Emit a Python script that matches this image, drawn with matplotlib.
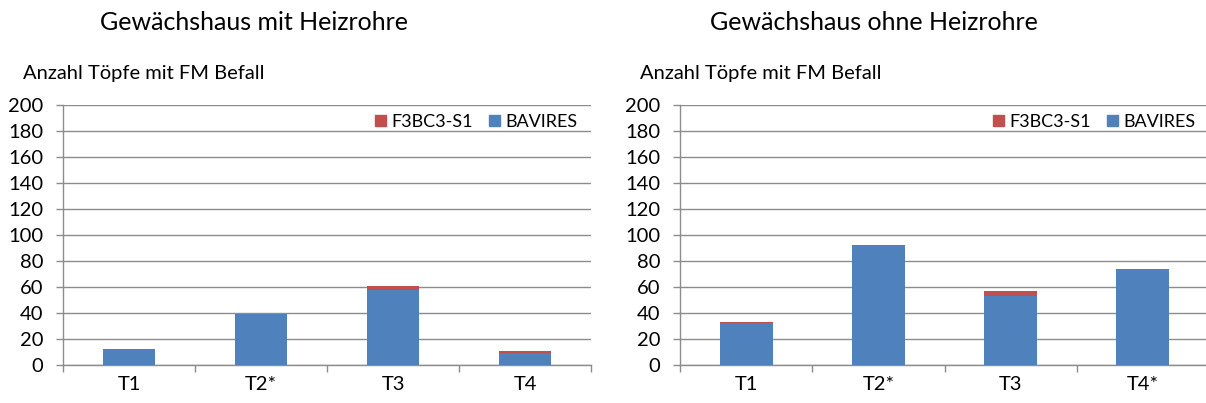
import matplotlib
matplotlib.use('Agg')
import matplotlib.pyplot as plt
from matplotlib.patches import Patch

# Data
categories_left = ['T1', 'T2*', 'T3', 'T4']
categories_right = ['T1', 'T2*', 'T3', 'T4*']
bavires_left = [12, 39, 58, 9]
f3bc3_left = [0, 0, 3, 2]
bavires_right = [32, 92, 53, 74]
f3bc3_right = [1, 0, 4, 0]
titles = ['Gewächshaus mit Heizrohre', 'Gewächshaus ohne Heizrohre']
y_label = 'Anzahl Töpfe mit FM Befall'

BLUE = '#4F81BD'
RED = '#C0504D'
GRID = '#8C8C8C'

plt.rcParams['font.family'] = ['Lato', 'DejaVu Sans']

W, H = 1206, 403
fig = plt.figure(figsize=(W / 100, H / 100), dpi=100)


def px(x, y):
    return x / W, 1 - y / H


def draw_panel(rect, cats, blue, red, title, title_x, label_x):
    ax = fig.add_axes(rect)
    xs = range(len(cats))
    ax.bar(xs, blue, width=0.4, color=BLUE, label='BAVIRES', zorder=3)
    ax.bar(xs, red, width=0.4, bottom=blue, color=RED, label='F3BC3-S1', zorder=3)

    ax.set_xlim(-0.5, len(cats) - 0.5)
    ax.set_ylim(0, 200)
    ax.set_yticks(range(0, 201, 20))
    ax.yaxis.grid(True, color=GRID, linewidth=1)
    ax.set_axisbelow(True)

    ax.set_xticks(list(xs))
    ax.set_xticklabels(cats)
    ax.set_xticks([i - 0.5 for i in range(len(cats) + 1)], minor=True)
    ax.tick_params(axis='x', which='major', length=0, pad=8, labelsize=14.5)
    ax.tick_params(axis='x', which='minor', length=5, color=GRID, width=1)
    ax.tick_params(axis='y', length=5, color=GRID, width=1, pad=9, labelsize=14.5)

    for s in ['top', 'right']:
        ax.spines[s].set_visible(False)
    for s in ['left', 'bottom']:
        ax.spines[s].set_color(GRID)
        ax.spines[s].set_linewidth(1)

    handles = [Patch(color=RED), Patch(color=BLUE)]
    ax.legend(handles, ['F3BC3-S1', 'BAVIRES'], ncol=2, frameon=False,
              loc='center right', bbox_to_anchor=(0.975, 0.935),
              borderaxespad=0, borderpad=0, fontsize=13,
              handlelength=0.6, handleheight=0.6, handletextpad=0.3,
              columnspacing=0.9)

    fig.text(*px(title_x, 22), title, fontsize=18, ha='left', va='center')
    fig.text(*px(label_x, 74), y_label, fontsize=14.5, ha='left', va='center')
    return ax


draw_panel([63 / W, 38 / H, 528 / W, 260 / H], categories_left,
           bavires_left, f3bc3_left, titles[0], 100, 23)
draw_panel([680 / W, 38 / H, 529 / W, 260 / H], categories_right,
           bavires_right, f3bc3_right, titles[1], 710, 640)

fig.savefig('out.png', dpi=100)
